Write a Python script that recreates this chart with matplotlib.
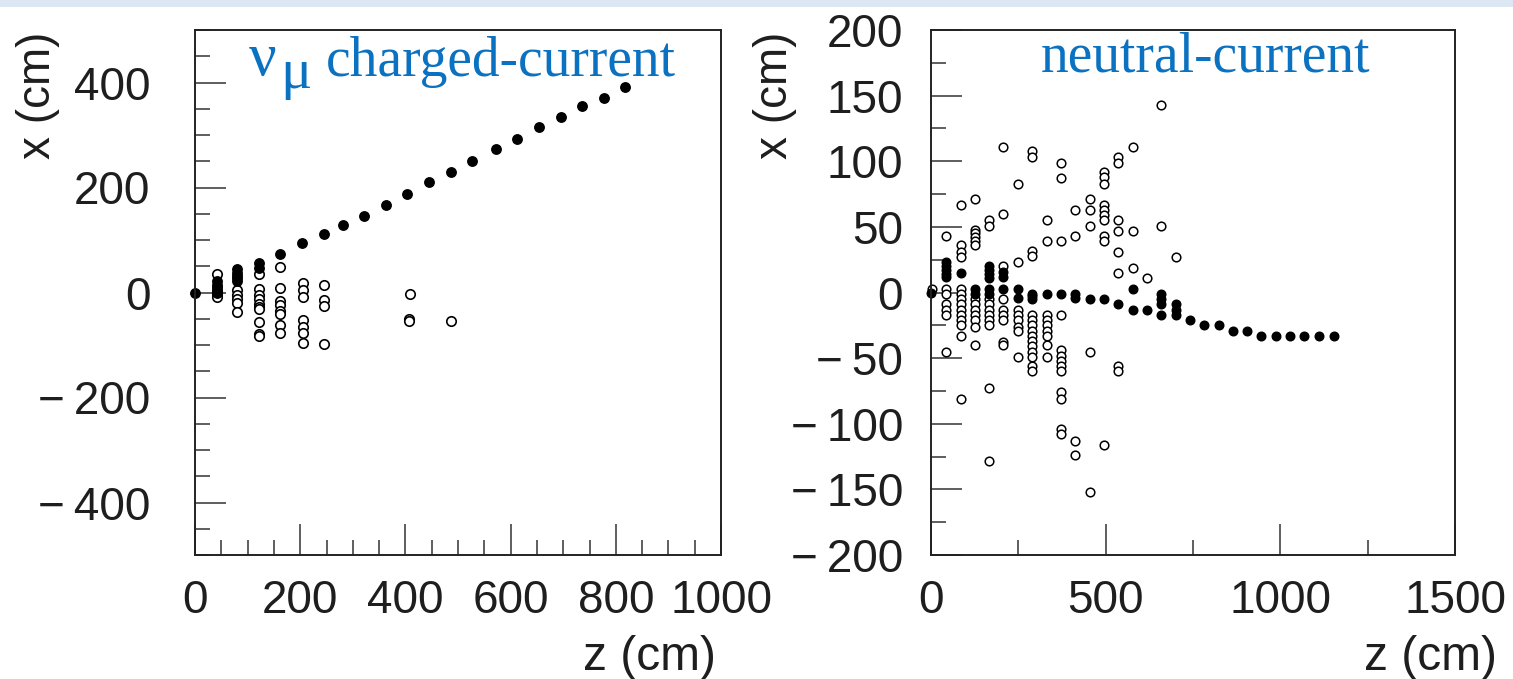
import matplotlib
matplotlib.use("Agg")
import matplotlib.pyplot as plt
from matplotlib.ticker import MultipleLocator
from matplotlib.patches import Rectangle

# ---------------- data: nu_mu charged-current event ----------------
cc_track_z = [0, 41, 41, 41, 41, 41, 80, 80, 80, 80, 80, 121, 121, 162, 204, 245, 282,
              322, 363, 403, 445, 486, 527, 572, 612, 654, 695, 735, 777, 817]
cc_track_x = [0, 22, 15, 10, 5, 0, 44, 38, 32, 27, 21, 56, 46, 73, 95, 111, 128,
              145, 167, 187, 211, 230, 250, 274, 293, 315, 334, 355, 370, 391]
cc_hits_z = [41, 41, 41, 41,
             80, 80, 80, 80, 80,
             121, 121, 121, 121, 121, 121, 121, 121, 121, 121,
             162, 162, 162, 162, 162, 162, 162, 162,
             205, 205, 205, 205, 205, 205, 205,
             245, 245, 245, 245,
             409, 407, 407,
             486]
cc_hits_x = [35, 3, -3, -8,
             5, -4, -13, -20, -37,
             35, 6, -5, -13, -21, -27, -32, -57, -79, -82,
             48, 9, -17, -24, -35, -41, -62, -78,
             19, 5, -9, -52, -66, -77, -97,
             14, -14, -26, -98,
             -2, -50, -54,
             -54]

# ---------------- data: neutral-current event ----------------
nc_track_z = [0, 44, 44, 44, 44, 44, 86, 126, 126, 167, 167, 167, 167, 167, 167,
              205, 205, 205, 249, 249, 290, 290, 290, 331, 372, 413, 413, 454, 494,
              536, 577, 577, 618, 659, 659, 659, 659, 701, 701, 701,
              741, 782, 823, 864, 905, 946, 987, 1028, 1069, 1111, 1154]
nc_track_x = [0, 23, 20, 17, 14, 12, 15, 3, -1, 20, 17, 14, 11, 3, -1,
              16, 12, 3, 3, -4, -1, -3, -5, -1, -1, -1, -4, -5, -5,
              -9, 3, -13, -13, -1, -5, -9, -17, -9, -13, -17,
              -21, -25, -25, -29, -29, -33, -33, -33, -33, -33, -33]
nc_hits_z = [3,
             44, 44, 44, 44, 44, 44, 44,
             86, 86, 86, 86, 86, 86, 86, 86, 86, 86, 86, 86, 86, 86,
             126, 126, 126, 126, 126, 126, 126, 126, 126, 126, 126, 126, 126,
             167, 167, 167, 167, 167, 167, 167, 167, 167, 167,
             205, 205, 205, 205, 205, 205, 205, 205, 205,
             249, 249, 249, 249, 249, 249, 249, 249,
             290, 290, 290, 290, 290, 290, 290, 290, 290, 290, 290, 290, 290, 290, 290,
             331, 331, 331, 331, 331, 331, 331, 331, 331,
             372, 372, 372, 372, 372, 372, 372, 372, 372, 372, 372, 372, 372,
             413, 413, 413, 413,
             454, 454, 454, 454, 454,
             494, 494, 494, 494, 494, 494, 494, 494, 494, 494,
             536, 536, 536, 536, 536, 536, 536, 536,
             577, 577, 577,
             618,
             659, 659,
             701]
nc_hits_x = [3,
             43, 3, -1, -9, -13, -17, -45,
             67, 36, 31, 27, 3, -1, -5, -9, -13, -17, -21, -25, -33, -81,
             71, 48, 45, 42, 39, 36, -5, -9, -13, -17, -21, -26, -40,
             55, 51, -5, -9, -13, -17, -21, -25, -73, -128,
             111, 60, 20, -5, -13, -17, -21, -38, -40,
             83, 23, -13, -17, -21, -26, -29, -49,
             108, 103, 32, 28, -17, -21, -25, -29, -33, -37, -41, -45, -49, -56, -60,
             55, 39, -17, -21, -25, -29, -33, -40, -49,
             99, 87, 39, -17, -44, -48, -52, -56, -60, -76, -81, -104, -108,
             63, 43, -113, -124,
             71, 63, 51, -45, -152,
             92, 88, 83, 67, 63, 59, 55, 43, 39, -116,
             103, 99, 55, 47, 31, 15, -56, -60,
             111, 47, 19,
             11,
             143, 51,
             27]

cc_xticks = [0, 200, 400, 600, 800, 1000]
cc_yticks = [-400, -200, 0, 200, 400]
nc_xticks = [0, 500, 1000, 1500]
nc_yticks = [-200, -150, -100, -50, 0, 50, 100, 150, 200]

cc_title_nu = "\u03bd"
cc_title_mu = "\u03bc"
cc_title_rest = "charged-current"
nc_title = "neutral-current"
axis_label_x = "x (cm)"
axis_label_z = "z (cm)"

# ---------------- style ----------------
W, H = 1513, 679
tick_font = 'Liberation Sans'
title_font = 'Liberation Serif'
tick_size = 33
txt_col = '#1e1e1e'
blue = '#0a72c0'


def fx(px):
    return px / W


def fy(py):
    return 1 - py / H


def fmt(v):
    return ("\u2212\u2009" + str(abs(v))) if v < 0 else str(v)


fig = plt.figure(figsize=(W / 100, H / 100), dpi=100)
fig.patch.set_facecolor('white')
fig.add_artist(Rectangle((0, fy(7)), 1, 7 / H, transform=fig.transFigure,
                         facecolor='#dce7f3', edgecolor='none'))

ax1 = fig.add_axes([fx(195), fy(555), 526 / W, 525 / H])
ax2 = fig.add_axes([fx(931), fy(555), 524 / W, 525 / H])


def style(ax, xt, yt, xminor, yminor, ypad):
    for s in ax.spines.values():
        s.set_linewidth(1.4)
        s.set_color('#222222')
    ax.set_xticks(xt)
    ax.set_xticklabels([fmt(v) for v in xt])
    ax.set_yticks(yt)
    ax.set_yticklabels([fmt(v) for v in yt])
    ax.xaxis.set_minor_locator(MultipleLocator(xminor))
    ax.yaxis.set_minor_locator(MultipleLocator(yminor))
    ax.tick_params(which='both', direction='in', top=False, right=False,
                   width=1.1, color='#333333')
    ax.tick_params(which='major', length=22, labelsize=tick_size,
                   labelcolor=txt_col)
    ax.tick_params(axis='x', which='major', pad=17)
    ax.tick_params(axis='y', which='major', pad=ypad)
    ax.tick_params(which='minor', length=11)
    for lab in ax.get_xticklabels() + ax.get_yticklabels():
        lab.set_fontfamily(tick_font)


mk = dict(linestyle='none', marker='o')

# left panel
ax1.plot(cc_hits_z, cc_hits_x, markersize=6.8, markerfacecolor='white',
         markeredgecolor='black', markeredgewidth=1.2, clip_on=False, **mk)
ax1.plot(cc_track_z, cc_track_x, markersize=6.8, markerfacecolor='black',
         markeredgecolor='black', clip_on=False, **mk)
ax1.set_xlim(0, 1000)
ax1.set_ylim(-500, 500)
style(ax1, cc_xticks, cc_yticks, 50, 50, 32)

fig.text(fx(249), fy(75.5), cc_title_nu, ha='left', va='baseline', fontsize=44,
         color=blue, family=title_font)
fig.text(fx(280), fy(88), cc_title_mu, ha='left', va='baseline', fontsize=42,
         color=blue, family=title_font)
fig.text(fx(326), fy(75.5), cc_title_rest, ha='left', va='baseline', fontsize=40,
         color=blue, family=title_font)

# right panel
ax2.plot(nc_hits_z, nc_hits_x, markersize=6.2, markerfacecolor='white',
         markeredgecolor='black', markeredgewidth=1.1, clip_on=False, **mk)
ax2.plot(nc_track_z, nc_track_x, markersize=6.2, markerfacecolor='black',
         markeredgecolor='black', clip_on=False, **mk)
ax2.set_xlim(0, 1500)
ax2.set_ylim(-200, 200)
style(ax2, nc_xticks, nc_yticks, 250, 25, 20)
fig.text(fx(1205), fy(72), nc_title, ha='center', va='baseline', fontsize=40,
         color=blue, family=title_font)

# axis labels
fig.text(fx(38), fy(32), axis_label_x, rotation=90, ha='center', va='top',
         fontsize=tick_size, family=tick_font, color=txt_col)
fig.text(fx(775), fy(32), axis_label_x, rotation=90, ha='center', va='top',
         fontsize=tick_size, family=tick_font, color=txt_col)
fig.text(fx(716), fy(657), axis_label_z, ha='right', va='center',
         fontsize=34.5, family=tick_font, color=txt_col)
fig.text(fx(1497), fy(657), axis_label_z, ha='right', va='center',
         fontsize=34.5, family=tick_font, color=txt_col)

fig.savefig('out.png', dpi=100, facecolor='white')
